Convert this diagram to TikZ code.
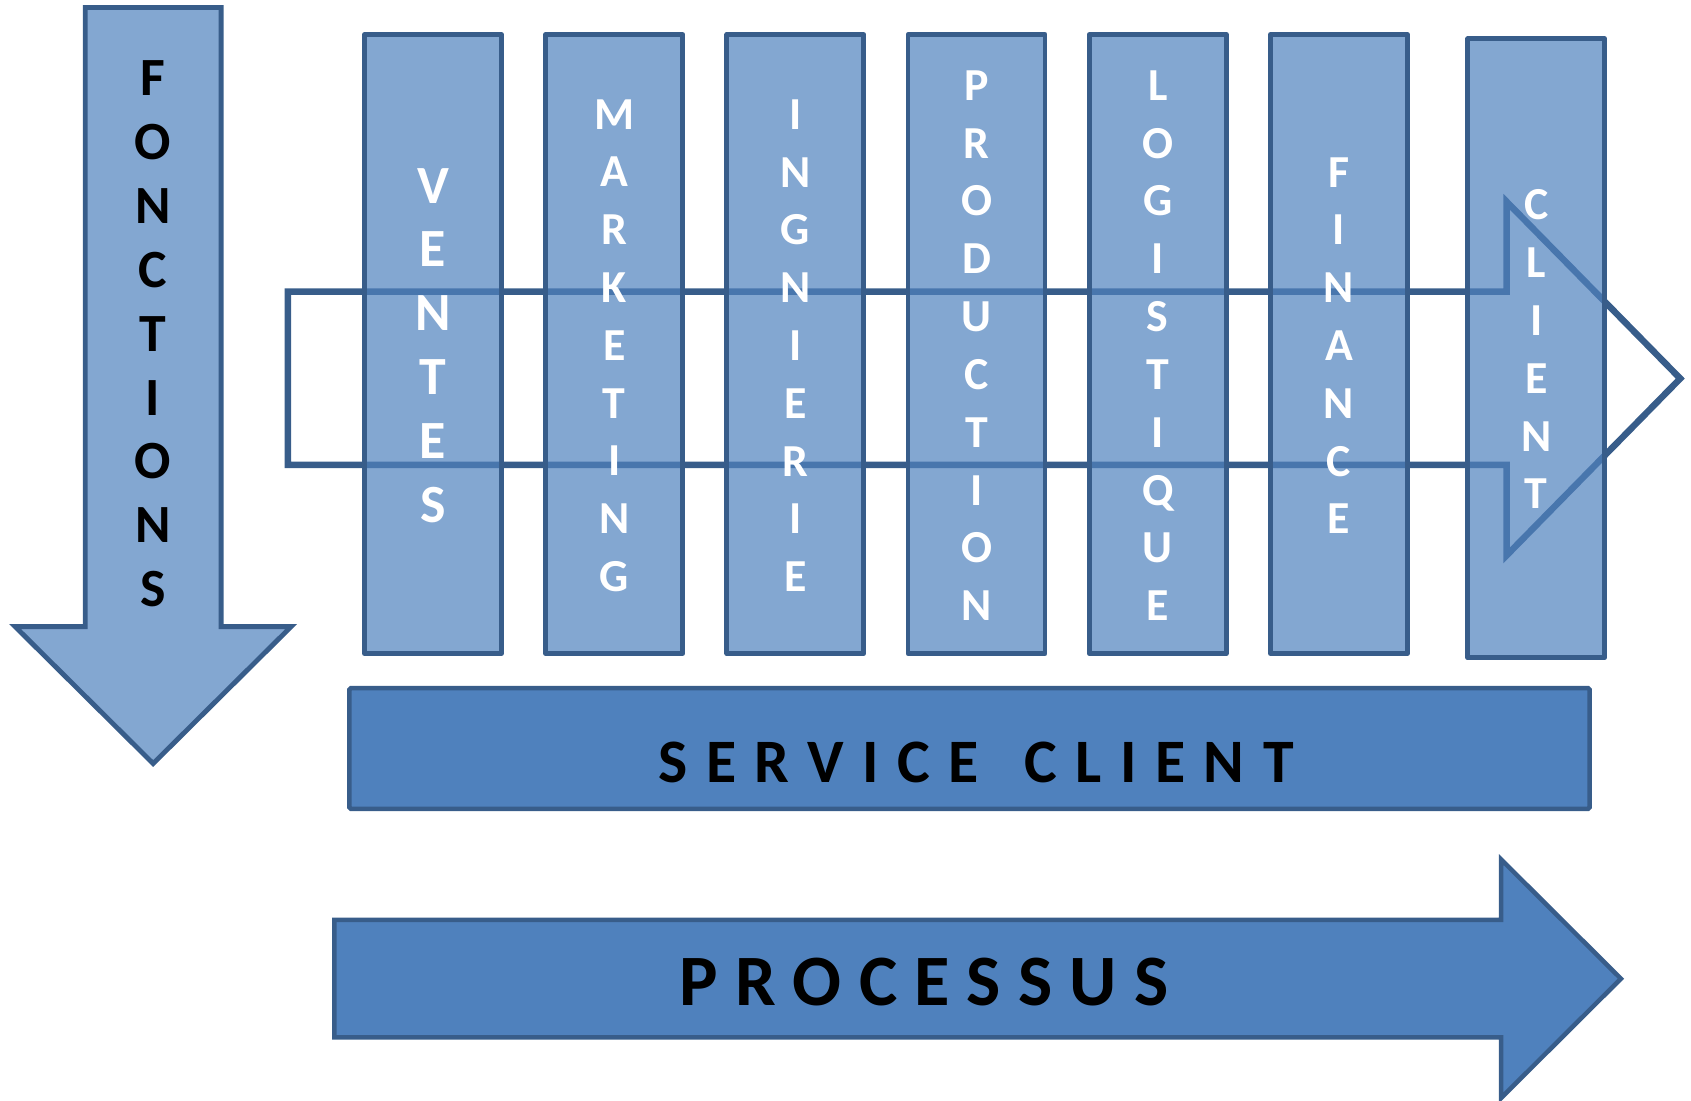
\documentclass[tikz,border=0pt]{standalone}
\usepackage{fontspec}
\setmainfont{Carlito}
\definecolor{mainc}{HTML}{4F81BD}
\definecolor{bordc}{HTML}{385D8A}
\tikzset{
  lightshape/.style={draw=bordc, line width=4.5pt, fill=mainc, fill opacity=0.7, line join=round},
  darkshape/.style={draw=bordc, line width=4.2pt, fill=mainc, line join=miter},
  outlineshape/.style={draw=bordc, line width=6pt, line join=miter},
  coltext/.style={text=white, font=\bfseries\fontsize{42.5}{53.6}\selectfont, align=center, inner sep=0pt},
  bigcoltext/.style={coltext, font=\bfseries\fontsize{49.9}{59.3}\selectfont},
}
\begin{document}
\begin{tikzpicture}[x=1pt,y=-1pt]
\useasboundingbox (0,0) rectangle (1568,1020);
% process outline arrow (behind columns)
\draw[outlineshape] (267,270.5) -- (1397,270.5) -- (1397,187) -- (1558,351) -- (1397,515) -- (1397,431) -- (267,431) -- cycle;
% FONCTIONS arrow
\draw[lightshape, line join=miter] (79,7) -- (205,7) -- (205,581) -- (270,581) -- (142,708) -- (14,581) -- (79,581) -- cycle;
\node[bigcoltext, text=black] (fonctions) at (142,309.5) {F\\O\\N\\C\\T\\I\\O\\N\\S};
% columns
\draw[lightshape] (338,32) rectangle (465,606);
\draw[lightshape] (506,32) rectangle (633,606);
\draw[lightshape] (674,32) rectangle (801,606);
\draw[lightshape] (842,32) rectangle (969,606);
\draw[lightshape] (1010,32) rectangle (1137,606);
\draw[lightshape] (1178,32) rectangle (1305,606);
\draw[lightshape] (1361,36) rectangle (1488,610);
\node[bigcoltext] (ventes) at (401.5,320.5) {V\\E\\N\\T\\E\\S};
\node[coltext] (marketing) at (569.5,320.5) {M\\A\\R\\K\\E\\T\\I\\N\\G};
\node[coltext] (ingnierie) at (737.5,320.5) {I\\N\\G\\N\\I\\E\\R\\I\\E};
\node[coltext] (production) at (905.5,320.5) {P\\R\\O\\D\\U\\C\\T\\I\\O\\N};
\node[coltext] (logistique) at (1073.5,320.5) {L\\O\\G\\I\\S\\T\\I\\Q\\U\\E};
\node[coltext] (finance) at (1241.5,320.5) {F\\I\\N\\A\\N\\C\\E};
\node[coltext] (client) at (1424.5,324) {C\\L\\I\\E\\N\\T};
% service client bar
\draw[darkshape, rounded corners=1.5pt] (324,638) rectangle (1474,750);
\node[anchor=base, inner sep=0pt, font=\bfseries\fontsize{57.3}{60}\selectfont\addfontfeature{LetterSpace=30}] (service) at (905,725.4) {SERVICE \hspace{12pt}CLIENT};
% processus arrow
\draw[darkshape] (310,853) -- (1392,853) -- (1392,797) -- (1503,907.5) -- (1392,1018) -- (1392,962) -- (310,962) -- cycle;
\node[anchor=base, inner sep=0pt, font=\bfseries\fontsize{67.1}{70}\selectfont\addfontfeature{LetterSpace=24}] (processus) at (857,932) {PROCESSUS};
\end{tikzpicture}
\end{document}
